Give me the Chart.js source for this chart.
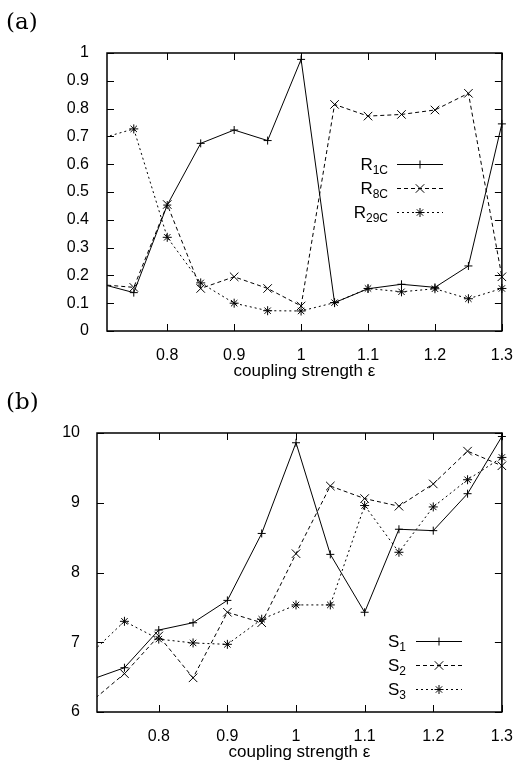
<!DOCTYPE html>
<html>
<head>
<meta charset="utf-8">
<script src="https://cdn.jsdelivr.net/npm/chart.js@4.4.0/dist/chart.umd.min.js"></script>
<style>
  body { margin: 0; background: #fff; }
  #wrap { position: relative; width: 520px; height: 761px; background: #fff; }
  canvas { position: absolute; left: 0; }
</style>
</head>
<body>
<div id="wrap">
  <canvas id="graficoA" width="520" height="380" style="top:0"></canvas>
  <canvas id="graficoB" width="520" height="381" style="top:380px"></canvas>
</div>
<script>
// valores
const epsilon = [0.7, 0.75, 0.8, 0.85, 0.9, 0.95, 1.0, 1.05, 1.1, 1.15, 1.2, 1.25, 1.3];

const r1c = [0.170, 0.138, 0.453, 0.675, 0.723, 0.685, 0.977, 0.102, 0.152, 0.168, 0.157, 0.234, 0.745];
const r8c = [0.167, 0.157, 0.455, 0.153, 0.195, 0.153, 0.090, 0.815, 0.773, 0.779, 0.795, 0.855, 0.195];
const r29c = [0.692, 0.727, 0.337, 0.173, 0.100, 0.073, 0.072, 0.102, 0.153, 0.141, 0.152, 0.116, 0.153];

const s1 = [6.46, 6.635, 7.175, 7.28, 7.60, 8.56, 9.86, 8.26, 7.43, 8.62, 8.60, 9.13, 9.95];
const s2 = [6.135, 6.55, 7.09, 6.49, 7.43, 7.28, 8.27, 9.24, 9.06, 8.95, 9.27, 9.74, 9.53];
const s3 = [6.83, 7.30, 7.045, 6.99, 6.97, 7.33, 7.535, 7.535, 8.96, 8.29, 8.94, 9.33, 9.65];

const xTicks = [0.8, 0.9, 1.0, 1.1, 1.2, 1.3];
const xTickLabels = ['0.8', '0.9', '1', '1.1', '1.2', '1.3'];
const yTicksA = [0, 0.1, 0.2, 0.3, 0.4, 0.5, 0.6, 0.7, 0.8, 0.9, 1];
const yTickLabelsA = ['0', '0.1', '0.2', '0.3', '0.4', '0.5', '0.6', '0.7', '0.8', '0.9', '1'];
const yTicksB = [6, 7, 8, 9, 10];
const yTickLabelsB = ['6', '7', '8', '9', '10'];

const legendaA = [['R', '1C'], ['R', '8C'], ['R', '29C']];
const legendaB = [['S', '1'], ['S', '2'], ['S', '3']];

// estilo gnuplot: linha cheia com +, tracejada com x, pontilhada com *
const estilos = [
    { dash: [], ponto: 'cross', raio: 4 },
    { dash: [4, 3], ponto: 'crossRot', raio: 6 },
    { dash: [2, 3], ponto: 'star', raio: 4.5 }
];

const FONTE = '"Liberation Sans", Arial, sans-serif';

// moldura, ticks para dentro, rótulo do painel e legenda com subscrito
const moldura = {
    id: 'moldura',
    afterDraw(chart, args, opts) {
        const ctx = chart.ctx;
        const a = chart.chartArea;
        const sx = chart.scales.x, sy = chart.scales.y;
        ctx.save();
        ctx.strokeStyle = '#000';
        ctx.fillStyle = '#000';
        ctx.setLineDash([]);
        ctx.lineWidth = 1;
        ctx.beginPath();
        sx.ticks.forEach(t => {
            const px = Math.round(sx.getPixelForValue(t.value)) + 0.5;
            ctx.moveTo(px, a.bottom); ctx.lineTo(px, a.bottom - 7);
            ctx.moveTo(px, a.top); ctx.lineTo(px, a.top + 7);
        });
        sy.ticks.forEach(t => {
            const py = Math.round(sy.getPixelForValue(t.value)) + 0.5;
            ctx.moveTo(a.left, py); ctx.lineTo(a.left + 7, py);
            ctx.moveTo(a.right, py); ctx.lineTo(a.right - 7, py);
        });
        ctx.stroke();
        ctx.lineWidth = 1.5;
        ctx.strokeRect(a.left, a.top, a.right - a.left, a.bottom - a.top);

        ctx.font = '23px "DejaVu Serif", serif';
        ctx.textAlign = 'left';
        ctx.textBaseline = 'middle';
        ctx.fillText(opts.painel, 6, 23);

        ctx.textBaseline = 'alphabetic';
        ctx.textAlign = 'right';
        opts.itens.forEach((item, i) => {
            const y = opts.y0 + i * opts.passo;
            ctx.font = '12px ' + FONTE;
            const wSub = ctx.measureText(item[1]).width;
            ctx.fillText(item[1], opts.xTexto, y + 10);
            ctx.font = '17px ' + FONTE;
            ctx.fillText(item[0], opts.xTexto - wSub, y + 6);

            const est = estilos[i];
            ctx.lineWidth = 1;
            ctx.setLineDash(est.dash);
            ctx.beginPath();
            ctx.moveTo(opts.xLinha, y + 0.5);
            ctx.lineTo(opts.xLinha + 46, y + 0.5);
            ctx.stroke();
            ctx.setLineDash([]);
            if (Chart.helpers && Chart.helpers.drawPoint) {
                Chart.helpers.drawPoint(ctx, { pointStyle: est.ponto, radius: est.raio, rotation: 0, borderWidth: 1 }, opts.xLinha + 23, y + 0.5);
            }
        });
        ctx.restore();
    }
};

function montarDatasets(series) {
    return series.map((valores, i) => ({
        data: valores.map((v, k) => ({ x: epsilon[k], y: v })),
        borderColor: '#000',
        backgroundColor: '#000',
        borderWidth: 1,
        borderDash: estilos[i].dash,
        pointStyle: estilos[i].ponto,
        pointRadius: estilos[i].raio,
        pointBorderColor: '#000',
        pointBorderWidth: 1,
        pointHoverRadius: estilos[i].raio,
        tension: 0,
        clip: { left: 0, top: 8, right: 8, bottom: 8 }
    }));
}

function desenharPainel(id, series, yMin, yMax, yTicks, yLabels, larguraY, paddingY, legenda) {
    const ctx = document.getElementById(id).getContext('2d');
    new Chart(ctx, {
        type: 'line',
        data: { datasets: montarDatasets(series) },
        plugins: [moldura],
        options: {
            responsive: false,
            animation: false,
            devicePixelRatio: 1,
            layout: { padding: { left: 0, right: 14, top: 53, bottom: 0 } },
            scales: {
                x: {
                    type: 'linear',
                    min: 0.71,
                    max: 1.3,
                    afterFit: s => { s.height = 49; },
                    afterBuildTicks: s => { s.ticks = xTicks.map(v => ({ value: v })); },
                    grid: { display: false },
                    border: { display: false },
                    ticks: {
                        color: '#000',
                        padding: 7,
                        maxRotation: 0,
                        autoSkip: false,
                        font: { family: FONTE, size: 16 },
                        callback: (v, i) => xTickLabels[i]
                    },
                    title: {
                        display: true,
                        text: 'coupling strength ε',
                        color: '#000',
                        padding: { top: 0, bottom: -2 },
                        font: { family: FONTE, size: 17 }
                    }
                },
                y: {
                    min: yMin,
                    max: yMax,
                    afterFit: s => { s.width = larguraY; },
                    afterBuildTicks: s => { s.ticks = yTicks.map(v => ({ value: v })); },
                    grid: { display: false },
                    border: { display: false },
                    ticks: {
                        color: '#000',
                        padding: paddingY,
                        autoSkip: false,
                        font: { family: FONTE, size: 16 },
                        callback: (v, i) => yLabels[i]
                    }
                }
            },
            plugins: {
                legend: { display: false },
                tooltip: { enabled: false },
                moldura: legenda
            }
        }
    });
}

desenharPainel('graficoA', [r1c, r8c, r29c], 0, 1, yTicksA, yTickLabelsA, 107, 10,
    { painel: '(a)', itens: legendaA, y0: 164, passo: 24, xTexto: 388, xLinha: 397 });
desenharPainel('graficoB', [s1, s2, s3], 6, 10, yTicksB, yTickLabelsB, 97, 9,
    { painel: '(b)', itens: legendaB, y0: 261, passo: 24, xTexto: 406, xLinha: 416 });
</script>
</body>
</html>
